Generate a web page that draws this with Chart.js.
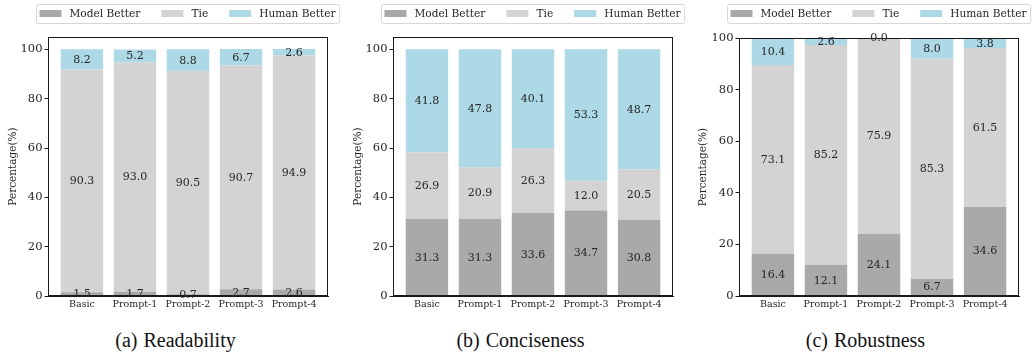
<!DOCTYPE html>
<html>
<head>
<meta charset="utf-8">
<script src="https://cdn.jsdelivr.net/npm/chart.js@4.4.0/dist/chart.umd.min.js"></script>
<style>
  html, body { margin: 0; padding: 0; background: #fff; }
  body { width: 1035px; height: 355px; position: relative; overflow: hidden; }
  .panel { position: absolute; top: 0; width: 345px; height: 355px; }
  .cv { position: absolute; left: 0; top: 0; width: 345px; height: 315px; }
  .cap { position: absolute; left: 3px; top: 327px; width: 345px; height: 26px; line-height: 26px;
         text-align: center; font-family: "Liberation Serif", "DejaVu Serif", serif; font-size: 20px; color: #111; }
  .cap span { margin-right: 6px; }
</style>
</head>
<body>
<div class="panel" style="left:0px"><div class="cv"><canvas id="c0"></canvas></div><div class="cap"><span>(a)</span>Readability</div></div>
<div class="panel" style="left:345px"><div class="cv"><canvas id="c1"></canvas></div><div class="cap"><span>(b)</span>Conciseness</div></div>
<div class="panel" style="left:690px"><div class="cv"><canvas id="c2"></canvas></div><div class="cap"><span>(c)</span>Robustness</div></div>
<script>
const categories = ["Basic", "Prompt-1", "Prompt-2", "Prompt-3", "Prompt-4"];
const seriesNames = ["Model Better", "Tie", "Human Better"];
const yTicks = [0, 20, 40, 60, 80, 100];

const readabilityModel = [1.5, 1.7, 0.7, 2.7, 2.6];
const readabilityTie   = [90.3, 93.0, 90.5, 90.7, 94.9];
const readabilityHuman = [8.2, 5.2, 8.8, 6.7, 2.6];

const concisenessModel = [31.3, 31.3, 33.6, 34.7, 30.8];
const concisenessTie   = [26.9, 20.9, 26.3, 12.0, 20.5];
const concisenessHuman = [41.8, 47.8, 40.1, 53.3, 48.7];

const robustnessModel = [16.4, 12.1, 24.1, 6.7, 34.6];
const robustnessTie   = [73.1, 85.2, 75.9, 85.3, 61.5];
const robustnessHuman = [10.4, 2.6, 0.0, 8.0, 3.8];

const colors = ["#a9a9a9", "#d3d3d3", "#add8e6"];
const SERIF = "'DejaVu Serif', serif";
const TEXT = "#262626";

const overlayPlugin = {
  id: "overlayMarks",
  afterDraw(chart) {
    const ctx = chart.ctx;
    const a = chart.chartArea;
    ctx.save();
    // frame around plot area (1px filled edges)
    ctx.fillStyle = "#1a1a1a";
    const L = Math.round(a.left), T = Math.round(a.top);
    const R = Math.round(a.right), B = Math.round(a.bottom);
    ctx.fillRect(L, T, R - L, 1);
    ctx.fillRect(L, B - 1, R - L, 1);
    ctx.fillRect(L, T, 1, B - T);
    ctx.fillRect(R - 1, T, 1, B - T);
    // segment labels
    ctx.font = "11px " + SERIF;
    ctx.fillStyle = TEXT;
    ctx.textAlign = "center";
    ctx.textBaseline = "middle";
    chart.data.datasets.forEach((ds, di) => {
      const meta = chart.getDatasetMeta(di);
      meta.data.forEach((el, i) => {
        const p = el.getProps(["x", "y", "base"], true);
        ctx.fillText(ds.data[i].y.toFixed(1), p.x, (p.y + p.base) / 2 + 0.5);
      });
    });
    // legend
    ctx.font = "10.6px " + SERIF;
    const widths = seriesNames.map(n => ctx.measureText(n).width);
    const padL = 3, padR = 4, sw = 22, textOff = 30, gap = 21;
    let total = padL + padR + gap * (seriesNames.length - 1);
    widths.forEach(w => total += textOff + w);
    const cx = (a.left + a.right) / 2;
    const bx = Math.round(cx - total / 2) + 0.5, by = 4.5, bh = 19;
    ctx.strokeStyle = "#d6d6d6";
    ctx.lineWidth = 1;
    ctx.beginPath();
    if (ctx.roundRect) ctx.roundRect(bx, by, total, bh, 2); else ctx.rect(bx, by, total, bh);
    ctx.fillStyle = "rgba(255,255,255,0.8)";
    ctx.fill();
    ctx.stroke();
    let x = bx + padL;
    ctx.textAlign = "left";
    seriesNames.forEach((n, i) => {
      ctx.fillStyle = colors[i];
      ctx.fillRect(x, 10, sw, 7);
      ctx.fillStyle = TEXT;
      ctx.fillText(n, x + textOff, 14);
      x += textOff + widths[i] + gap;
    });
    ctx.restore();
  }
};

function makeChart(id, model, tie, human, ymax, padTop, padRight, yWidth) {
  const toPts = arr => arr.map((v, i) => ({ x: i, y: v }));
  return new Chart(document.getElementById(id), {
    type: "bar",
    data: {
      datasets: [model, tie, human].map((arr, k) => ({
        label: seriesNames[k],
        data: toPts(arr),
        backgroundColor: colors[k],
        borderWidth: 0,
        barPercentage: 0.8,
        categoryPercentage: 1.0
      }))
    },
    options: {
      responsive: true,
      maintainAspectRatio: false,
      animation: false,
      events: [],
      layout: { padding: { top: padTop, right: padRight, left: 0, bottom: 0 } },
      plugins: { legend: { display: false }, tooltip: { enabled: false } },
      scales: {
        x: {
          type: "linear",
          stacked: true,
          offset: false,
          min: -0.64, max: 4.64,
          afterBuildTicks: s => { s.ticks = categories.map((c, i) => ({ value: i })); },
          afterFit: s => { s.height = 19; },
          grid: { display: false, drawTicks: false },
          border: { display: true, color: "#1a1a1a", width: 1 },
          ticks: {
            callback: v => categories[v],
            font: { family: SERIF, size: 9.5 },
            color: TEXT,
            padding: 3,
            maxRotation: 0,
            autoSkip: false
          }
        },
        y: {
          stacked: true,
          min: 0, max: ymax,
          afterBuildTicks: s => { s.ticks = yTicks.map(v => ({ value: v })); },
          afterFit: s => { s.width = yWidth; },
          grid: { drawOnChartArea: false, drawTicks: true, tickLength: 3.5, tickColor: "#1a1a1a" },
          border: { display: true, color: "#1a1a1a", width: 1 },
          ticks: { font: { family: SERIF, size: 11.5 }, color: TEXT, padding: 2 },
          title: {
            display: true,
            text: "Percentage(%)",
            font: { family: SERIF, size: 10.5 },
            color: TEXT,
            padding: { top: 7, bottom: 0 }
          }
        }
      }
    },
    plugins: [overlayPlugin]
  });
}

makeChart("c0", readabilityModel, readabilityTie, readabilityHuman, 105, 37, 17, 48);
makeChart("c1", concisenessModel, concisenessTie, concisenessHuman, 105, 37, 17, 48);
makeChart("c2", robustnessModel, robustnessTie, robustnessHuman, 100, 38, 16, 49);
</script>
</body>
</html>
